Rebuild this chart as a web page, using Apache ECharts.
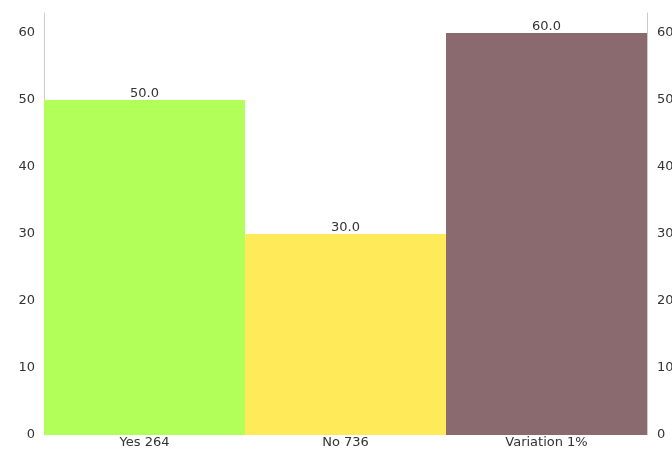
<!DOCTYPE html>
<html>
<head>
<meta charset="utf-8">
<script src="https://cdn.jsdelivr.net/npm/echarts@6/dist/echarts.min.js"></script>
<style>
  html, body { margin: 0; padding: 0; background: #ffffff; }
  #chart { width: 672px; height: 449px; }
</style>
</head>
<body>
<div id="chart"></div>
<script>
const categories = ["Yes 264", "No 736", "Variation 1%"];
const values = [50, 30, 60];
const barColors = ["#b2ff59", "#ffeb5a", "#8a6a6e"];
const yTicks = [0, 10, 20, 30, 40, 50, 60];

const chart = echarts.init(document.getElementById('chart'));
const labelFont = { fontFamily: 'DejaVu Sans', fontSize: 13, color: '#333333' };

const yAxisBase = {
  type: 'value',
  min: 0,
  max: 63,
  interval: 10,
  splitLine: { show: false },
  axisTick: { show: false },
  axisLine: { show: true, lineStyle: { color: '#cccccc', width: 1 } },
  axisLabel: Object.assign({ margin: 9, showMaxLabel: false,
    formatter: v => (yTicks.indexOf(v) >= 0 ? String(v) : '') }, labelFont)
};

chart.setOption({
  animation: false,
  grid: { left: 44, right: 25, top: 13, bottom: 14, containLabel: false, outerBoundsMode: 'none' },
  xAxis: {
    type: 'category',
    data: categories,
    axisLine: { show: false },
    axisTick: { show: false },
    axisLabel: Object.assign({ margin: 1 }, labelFont)
  },
  yAxis: [
    Object.assign({}, yAxisBase, { position: 'left' }),
    Object.assign({}, yAxisBase, { position: 'right', axisLabel: Object.assign({}, yAxisBase.axisLabel, { margin: 10 }) })
  ],
  series: [{
    type: 'bar',
    yAxisIndex: 0,
    barCategoryGap: '0%',
    z: 1,
    data: values.map((v, i) => ({ value: v, itemStyle: { color: barColors[i] } })),
    label: Object.assign({
      show: true,
      position: 'top',
      distance: 0,
      formatter: p => p.value.toFixed(1)
    }, labelFont)
  }]
});
</script>
</body>
</html>
